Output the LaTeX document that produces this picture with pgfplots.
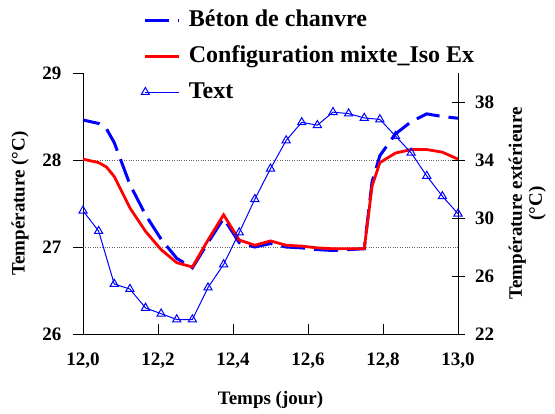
\documentclass[border=0pt]{standalone}
\usepackage{fontspec}
\setmainfont{Liberation Serif}
\usepackage{pgfplots}
\pgfplotsset{compat=1.18}
\pgfplotstableread{
x        beton  mixte
12.0000  28.46  28.01
12.0417  28.42  27.97
12.0625  28.36  27.92
12.0833  28.20  27.81
12.1250  27.72  27.45
12.1667  27.37  27.18
12.2083  27.09  26.97
12.2500  26.87  26.82
12.2917  26.76  26.77
12.3333  27.05  27.08
12.3750  27.33  27.37
12.4167  27.05  27.08
12.4583  27.00  27.02
12.5000  27.04  27.07
12.5417  27.00  27.02
12.5833  26.99  27.01
12.6250  26.97  26.99
12.6667  26.96  26.98
12.7083  26.97  26.98
12.7500  26.98  26.98
12.7708  27.75  27.70
12.7917  28.05  27.97
12.8333  28.30  28.08
12.8750  28.44  28.12
12.9167  28.53  28.12
12.9583  28.50  28.09
13.0000  28.48  28.01
}\tabint
\pgfplotstableread{
x        text
12.0000  30.50
12.0417  29.10
12.0833  25.45
12.1250  25.10
12.1667  23.80
12.2083  23.40
12.2500  23.00
12.2917  23.00
12.3333  25.20
12.3750  26.80
12.4167  29.00
12.4583  31.30
12.5000  33.40
12.5417  35.35
12.5833  36.60
12.6250  36.40
12.6667  37.30
12.7083  37.20
12.7500  36.90
12.7917  36.80
12.8333  35.65
12.8750  34.50
12.9167  32.90
12.9583  31.50
13.0000  30.30
}\tabext
\begin{document}
\begin{tikzpicture}[x=1pt,y=1pt]
\useasboundingbox (0,0) rectangle (555,-413);
\begin{axis}[
  at={(83pt,-334pt)}, anchor=south west,
  scale only axis, width=375pt, height=261pt,
  xmin=12, xmax=13, ymin=26, ymax=29,
  clip=false,
  axis x line*=bottom, axis y line*=left,
  axis line style={-, line width=0.8pt},
  xtick={12,12.2,12.4,12.6,12.8,13},
  ytick={26,27,28,29},
  xtick align=inside, ytick align=outside,
  major tick length=10pt,
  tick style={line width=0.8pt, black},
  extra y ticks={27,28}, extra y tick labels={},
  extra y tick style={grid=major, major tick length=0pt, major grid style={dotted, line width=0.9pt, gray!80!black}},
  tick label style={font=\fontsize{19}{19}\selectfont\bfseries},
  /pgf/number format/assume math mode=true,
  xticklabel style={yshift=-15pt, /pgf/number format/.cd, fixed, fixed zerofill, precision=1, use comma},
  yticklabel style={xshift=-8pt, /pgf/number format/.cd, fixed, precision=0},
  label style={font=\fontsize{19}{22}\selectfont\bfseries},
  xlabel={Temps (jour)},
  xlabel style={at={(axis description cs:0.5,-0.253)}, anchor=center},
  ylabel={Température (°C)},
  ylabel style={at={(axis description cs:-0.168,0.5)}, anchor=center},
]
\addplot[blue, line width=3pt, dash pattern=on 24pt off 9pt, dash phase=7pt] table[x=x, y=beton] {\tabint};
\addplot[red, line width=2.8pt] table[x=x, y=mixte] {\tabint};
\end{axis}
\begin{axis}[
  at={(83pt,-334pt)}, anchor=south west,
  scale only axis, width=375pt, height=261pt,
  xmin=12, xmax=13, ymin=22, ymax=40,
  clip=false,
  axis x line=none, axis y line*=right,
  axis line style={-, line width=0.8pt},
  ytick={22,26,30,34,38},
  ytick align=center,
  major tick length=13pt,
  tick style={line width=0.8pt, black},
  tick label style={font=\fontsize{19}{19}\selectfont\bfseries},
  yticklabel style={xshift=7pt},
  /pgf/number format/assume math mode=true,
  label style={font=\fontsize{19}{20}\selectfont\bfseries},
  ylabel={Température extérieure\\(°C)},
  ylabel style={align=center, at={(axis description cs:1.185,0.5)}, anchor=center},
  legend image code/.code={\draw[#1, mark indices={1}] plot coordinates {(0pt,0pt) (17pt,0pt) (34pt,0pt)};},
  legend style={at={(axis description cs:0.147,1.28)}, anchor=north west, draw=none, fill=none,
    font=\fontsize{24}{24}\selectfont\bfseries, row sep=0pt, column sep=8pt,
    nodes={inner xsep=0pt, inner ysep=6pt, text height=18pt, text depth=6pt}},
  legend cell align=left,
]
\addlegendimage{blue, line width=3pt, dash pattern=on 24pt off 9pt}
\addlegendentry{Béton de chanvre}
\addlegendimage{red, line width=2.8pt}
\addlegendentry{Configuration mixte\_Iso Ex}
\addplot[blue, line width=1pt, mark=triangle, mark size=4.7pt, mark options={fill=white, solid, line width=1pt}] table[x=x, y=text] {\tabext};
\addlegendentry{Text}
\end{axis}
\end{tikzpicture}
\end{document}
